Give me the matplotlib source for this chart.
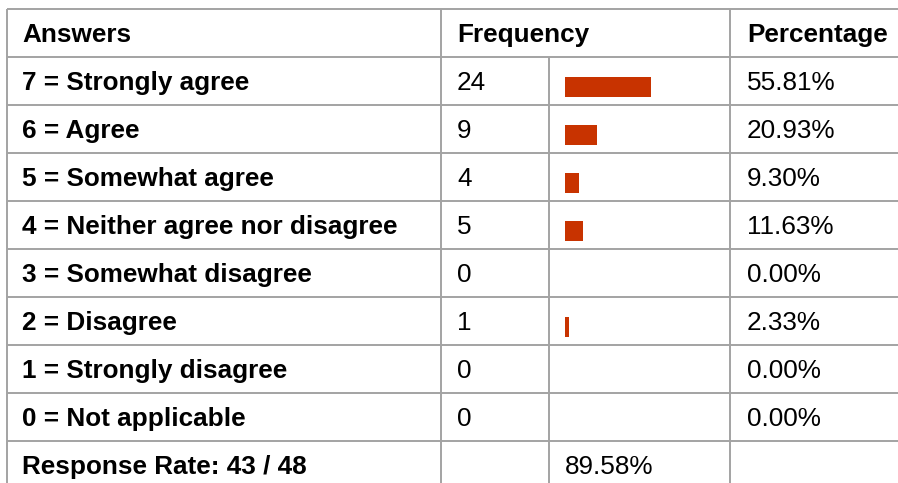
import matplotlib
matplotlib.use('Agg')
import matplotlib.pyplot as plt

# table content
headers = ["Answers", "Frequency", "Percentage"]
answers = ["7 = Strongly agree", "6 = Agree", "5 = Somewhat agree",
           "4 = Neither agree nor disagree", "3 = Somewhat disagree",
           "2 = Disagree", "1 = Strongly disagree", "0 = Not applicable"]
counts = [24, 9, 4, 5, 0, 1, 0, 0]
percents = [55.81, 20.93, 9.30, 11.63, 0.00, 2.33, 0.00, 0.00]
rate_label = "Response Rate: 43 / 48"
rate_value = 89.58

W, H = 898, 483
ROW_PX = 48.0
TOP_PX = 9.0
LINE_COLOR = "#a3a3a3"
BAR_COLOR = "#c83300"
FS = 18.8

plt.rcParams['font.family'] = ['Liberation Sans', 'DejaVu Sans']

fig = plt.figure(figsize=(W / 100, H / 100), dpi=100)
ax = fig.add_axes([0, 0, 1, 1])
ax.set_axis_off()

# x in pixels, y in row units (row r centred on r; header is row 0)
y_top = -0.5 - TOP_PX / ROW_PX
y_bot = y_top + H / ROW_PX
ax.set_xlim(0, W)
ax.set_ylim(y_bot, y_top)

n_rows = len(answers) + 2
col_left, col_freq, col_bar, col_pct = 7, 441, 549, 730

# grid
for r in range(n_rows + 1):
    ax.hlines(r - 0.5, col_left, W + 5, color=LINE_COLOR, lw=1.4)
for x in (col_left, col_freq, col_pct):
    ax.vlines(x, -0.5, n_rows - 0.5, color=LINE_COLOR, lw=1.4)
ax.vlines(col_bar, 0.5, n_rows - 0.5, color=LINE_COLOR, lw=1.4)

base = 9.3 / ROW_PX  # baseline offset below row centre


def cell(x, r, s, bold=False):
    ax.text(x, r + base, s, fontsize=FS, va='baseline', ha='left',
            fontweight='bold' if bold else 'normal', color='black')


cell(22, 0, headers[0], True)
cell(457, 0, headers[1], True)
cell(747, 0, headers[2], True)

for i, (a, c, p) in enumerate(zip(answers, counts, percents)):
    r = i + 1
    cell(22, r, a, True)
    cell(457, r, str(c))
    cell(747, r, "{:.2f}%".format(p))

last = len(answers) + 1
cell(22, last, rate_label, True)
cell(565, last, "{:.2f}%".format(rate_value))

# bars scaled by percentage inside the frequency bar cell
bax = fig.add_axes([565 / W, 0, 154 / W, 1])
bax.set_axis_off()
bax.patch.set_alpha(0)
bax.set_xlim(0, 100)
bax.set_ylim(y_bot, y_top)
rows = [i + 1 + 6 / ROW_PX for i in range(len(percents))]
bax.barh(rows, percents, height=20 / ROW_PX, color=BAR_COLOR, linewidth=0)

fig.savefig("out.png", dpi=100)
plt.close(fig)
